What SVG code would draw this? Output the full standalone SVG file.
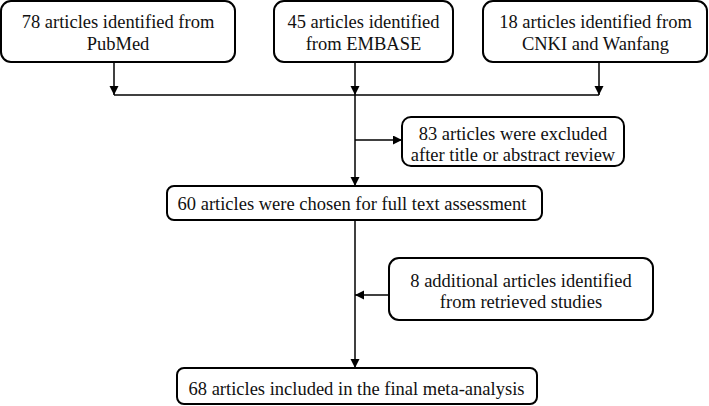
<svg xmlns="http://www.w3.org/2000/svg" width="709" height="406" viewBox="0 0 709 406">
<style>
.box{fill:#fff;stroke:#000;stroke-width:2}
.t{font-family:"Liberation Serif","Times New Roman",serif;font-size:18.5px;fill:#111;text-anchor:middle}
.c{fill:none;stroke:#000;stroke-width:1.5}
</style>
<defs>
<marker id="ah" markerUnits="userSpaceOnUse" markerWidth="10" markerHeight="10" refX="9" refY="4.5" orient="auto">
<path d="M0,0 L9,4.5 L0,9 Z" fill="#000"/>
</marker>
</defs>
<rect width="709" height="406" fill="#fff"/>
<g id="pubmed"><rect class="box" x="1" y="1" width="234" height="61" rx="10"/>
<text class="t" x="118" y="28">78 articles identified from</text><text class="t" x="118" y="50">PubMed</text></g>
<g id="embase"><rect class="box" x="274" y="1" width="179" height="61" rx="10"/>
<text class="t" x="363.5" y="28">45 articles identified</text><text class="t" x="363.5" y="50">from EMBASE</text></g>
<g id="cnki"><rect class="box" x="483" y="1" width="224" height="61" rx="10"/>
<text class="t" x="595.5" y="28">18 articles identified from</text><text class="t" x="595.5" y="50">CNKI and Wanfang</text></g>
<g id="excluded"><rect class="box" x="402" y="117" width="222" height="49" rx="9"/>
<text class="t" x="513" y="140">83 articles were excluded</text><text class="t" x="513" y="161">after title or abstract review</text></g>
<g id="fulltext"><rect class="box" x="167" y="186" width="375" height="34" rx="7"/>
<text class="t" x="352" y="210">60 articles were chosen for full text assessment</text></g>
<g id="additional"><rect class="box" x="389" y="258" width="264" height="62" rx="10"/>
<text class="t" x="521" y="287">8 additional articles identified</text><text class="t" x="521" y="308">from retrieved studies</text></g>
<g id="final"><rect class="box" x="177" y="368" width="360" height="36" rx="7"/>
<text class="t" x="356.5" y="395">68 articles included in the final meta-analysis</text></g>
<g id="connectors">
<path class="c" d="M114 62 V95" marker-end="url(#ah)"/>
<path class="c" d="M599 62 V95" marker-end="url(#ah)"/>
<path class="c" d="M355 62 V95" marker-end="url(#ah)"/>
<path class="c" d="M114 95 H599"/>
<path class="c" d="M355 95 V186" marker-end="url(#ah)"/>
<path class="c" d="M355 140 H402" marker-end="url(#ah)"/>
<path class="c" d="M355 220 V368" marker-end="url(#ah)"/>
<path class="c" d="M389 295 H355" marker-end="url(#ah)"/>
</g>
</svg>
